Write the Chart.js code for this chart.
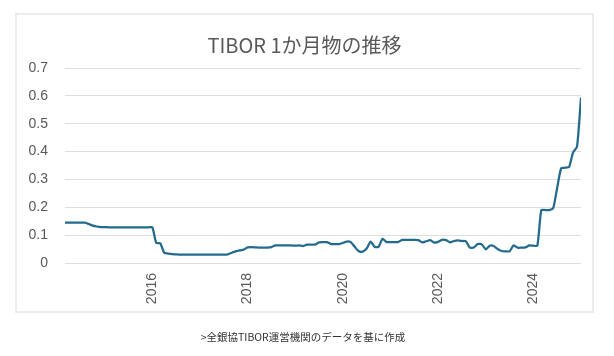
<!DOCTYPE html>
<html>
<head>
<meta charset="utf-8">
<script src="https://cdn.jsdelivr.net/npm/chart.js@4.4.1/dist/chart.umd.min.js"></script>
<style>
  html, body { margin: 0; padding: 0; background: #ffffff; }
  #wrap { position: relative; width: 614px; height: 356px; overflow: hidden; }
  #card { position: absolute; left: 15px; top: 13px; width: 575px; height: 296px; border: 2px solid #ececec; }
  #c { position: absolute; left: 0; top: 0; }
  #note { position: absolute; left: 0; width: 606px; top: 329px; text-align: center;
          font-family: "Noto Sans CJK JP", "Noto Sans", sans-serif; font-size: 10.5px; color: #333333; }
</style>
</head>
<body>
<div id="wrap">
  <div id="card"></div>
  <canvas id="c" width="614" height="356"></canvas>
  <div id="note">&gt;全銀協TIBOR運営機関のデータを基に作成</div>
</div>
<script>
// ---- data (monthly) ----
const titleText = 'TIBOR 1か月物の推移';
const startYear = 2014;
const startMonth = 3; // first observation: March 2014
const v2014 = [0.145, 0.145, 0.145, 0.145, 0.145, 0.145, 0.140, 0.134, 0.131, 0.129];
const v2015 = [0.129, 0.128, 0.128, 0.128, 0.128, 0.128, 0.128, 0.128, 0.128, 0.128, 0.128, 0.128];
const v2016 = [0.128, 0.072, 0.071, 0.037, 0.034, 0.032, 0.031, 0.030, 0.030, 0.030, 0.030, 0.030];
const v2017 = [0.030, 0.030, 0.030, 0.030, 0.030, 0.030, 0.030, 0.031, 0.037, 0.042, 0.045, 0.048];
const v2018 = [0.056, 0.057, 0.056, 0.055, 0.055, 0.055, 0.057, 0.063, 0.063, 0.063, 0.063, 0.063];
const v2019 = [0.062, 0.063, 0.061, 0.066, 0.066, 0.066, 0.074, 0.075, 0.075, 0.068, 0.068, 0.068];
const v2020 = [0.072, 0.077, 0.075, 0.058, 0.042, 0.041, 0.052, 0.077, 0.058, 0.058, 0.087, 0.075];
const v2021 = [0.075, 0.075, 0.076, 0.083, 0.083, 0.083, 0.083, 0.082, 0.074, 0.078, 0.082, 0.073];
const v2022 = [0.076, 0.083, 0.082, 0.074, 0.079, 0.081, 0.079, 0.078, 0.055, 0.056, 0.068, 0.067];
const v2023 = [0.049, 0.062, 0.061, 0.050, 0.043, 0.042, 0.042, 0.063, 0.055, 0.055, 0.056, 0.063];
const v2024 = [0.062, 0.062, 0.190, 0.190, 0.190, 0.197, 0.270, 0.340, 0.342, 0.345, 0.397, 0.418];
const v2025 = [0.594];
const xTickYears = [2016, 2018, 2020, 2022, 2024];
const xTickLabels = ['2016', '2018', '2020', '2022', '2024'];
const yTicks = [0, 0.1, 0.2, 0.3, 0.4, 0.5, 0.6, 0.7];

// ---- build points: x = fractional year of each month ----
const values = [].concat(v2014, v2015, v2016, v2017, v2018, v2019, v2020, v2021, v2022, v2023, v2024, v2025);
const points = values.map((v, i) => {
  const m = startMonth - 1 + i;
  return { x: startYear + Math.floor(m / 12) + (m % 12) / 12, y: v };
});

const tickFont = { family: '"Liberation Sans", Arial, sans-serif', size: 14 };
const grey = '#595959';

new Chart(document.getElementById('c'), {
  type: 'line',
  data: {
    datasets: [{
      data: points,
      borderColor: '#226b8e',
      borderWidth: 2.25,
      pointRadius: 0,
      tension: 0.2,
      fill: false
    }]
  },
  options: {
    responsive: false,
    animation: false,
    devicePixelRatio: 1,
    layout: { padding: { left: 28, right: 33, top: 20, bottom: 43 } },
    plugins: {
      legend: { display: false },
      tooltip: { enabled: false },
      title: {
        display: true,
        text: titleText,
        color: grey,
        font: { family: '"Noto Sans CJK JP", "Noto Sans", sans-serif', size: 20, weight: 'normal', lineHeight: 1.2 },
        padding: { top: 13, bottom: 11 }
      }
    },
    scales: {
      x: {
        type: 'linear',
        min: points[0].x,
        max: points[points.length - 1].x,
        grid: { display: false, drawTicks: false },
        border: { display: false },
        afterBuildTicks: s => { s.ticks = xTickYears.map(v => ({ value: v })); },
        afterFit: s => { s.height = 50; },
        ticks: {
          autoSkip: false,
          minRotation: 90,
          maxRotation: 90,
          padding: 10,
          color: grey,
          font: tickFont,
          callback: v => xTickLabels[xTickYears.indexOf(v)]
        }
      },
      y: {
        min: 0,
        max: 0.7,
        grid: { color: '#dedede', lineWidth: 1, drawTicks: false },
        border: { display: false },
        afterBuildTicks: s => { s.ticks = yTicks.map(v => ({ value: v })); },
        afterFit: s => { s.width = 37; },
        ticks: {
          padding: 17,
          color: grey,
          font: tickFont,
          callback: v => (v === 0 ? '0' : v.toFixed(1))
        }
      }
    }
  }
});
</script>
</body>
</html>
